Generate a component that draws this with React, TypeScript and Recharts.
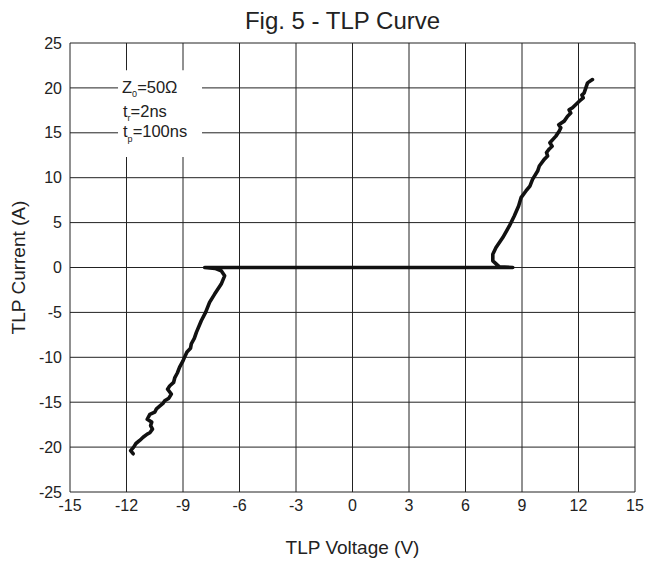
import React from "react";
import {
  LineChart,
  Line,
  XAxis,
  YAxis,
  CartesianGrid,
  ReferenceArea,
  Label,
  Customized,
} from "recharts";

// TLP voltage (V) along the traced curve, in drawing order
const voltage: number[] = [
  -11.65, -11.78, -11.62, -11.5, -11.3, -11.12, -10.9, -10.76, -10.62, -10.72,
  -10.66, -10.9, -10.76, -10.5, -10.41, -10.24, -10.05, -9.97, -9.75, -9.62,
  -9.82, -9.71, -9.5, -9.44, -9.3, -9.18, -9.0, -8.9, -8.79, -8.6,
  -8.56, -8.4, -8.29, -8.03, -7.8, -7.59, -7.32, -6.97, -6.79, -6.97,
  -7.3, -7.85, 2.7, 3.7, 8.51, 7.8, 7.45, 7.45, 7.62, 7.98,
  8.33, 8.59, 8.82, 8.95, 9.21, 9.42, 9.56, 9.83, 9.92, 10.18,
  10.36, 10.3, 10.45, 10.6, 10.48, 10.8, 10.98, 11.06, 10.95, 11.24,
  11.42, 11.59, 11.5, 11.68, 11.86, 12.04, 12.25, 12.18, 12.3, 12.39,
  12.48, 12.74,
];

// TLP current (A) along the traced curve, in drawing order
const current: number[] = [
  -20.74, -20.4, -20.0, -19.6, -19.26, -18.9, -18.55, -18.4, -18.0, -17.6,
  -17.22, -16.9, -16.35, -16.1, -15.75, -15.45, -15.1, -14.85, -14.55, -14.1,
  -13.55, -13.2, -12.8, -12.3, -11.75, -11.1, -10.4, -9.9, -9.4, -9.0,
  -8.5, -7.9, -7.22, -5.93, -5.0, -3.89, -2.96, -1.85, -0.93, -0.37,
  -0.1, 0, 0, 0, 0, 0.07, 0.74, 1.48, 2.22, 3.33,
  4.63, 5.74, 6.85, 7.78, 8.52, 9.07, 9.81, 10.74, 11.3, 12.04,
  12.41, 12.8, 13.2, 13.5, 13.89, 14.63, 15.19, 15.55, 15.9, 16.3,
  16.85, 17.2, 17.55, 17.78, 18.15, 18.52, 18.89, 19.2, 19.44, 20.0,
  20.56, 20.93,
];

const xTicks: number[] = [-15, -12, -9, -6, -3, 0, 3, 6, 9, 12, 15];
const yTicks: number[] = [-25, -20, -15, -10, -5, 0, 5, 10, 15, 20, 25];

const title = "Fig. 5 - TLP Curve";
const xTitle = "TLP Voltage (V)";
const yTitle = "TLP Current (A)";

// annotation box extent (data units)
const boxX: number[] = [-12.45, -7.99];
const boxY: number[] = [12.3, 21.96];

const data = voltage.map((v, k) => ({ v, i: current[k] }));

const FONT = "'Liberation Sans', Arial, Helvetica, sans-serif";
const INK = "#222";

const AnnotationContent = (props: any) => {
  const vb = props.viewBox || {};
  const x0 = vb.x + 4;
  const y0 = vb.y;
  return (
    <g fontFamily={FONT} fill={INK} fontSize={16.5}>
      <text x={x0} y={y0 + 23}>
        <tspan>Z</tspan>
        <tspan dy={4} fontSize={9}>0</tspan>
        <tspan dy={-4}>=50Ω</tspan>
      </text>
      <text x={x0 + 1} y={y0 + 47}>
        <tspan>t</tspan>
        <tspan dy={4} fontSize={9}>r</tspan>
        <tspan dy={-4}>=2ns</tspan>
      </text>
      <text x={x0 + 1} y={y0 + 66.5}>
        <tspan>t</tspan>
        <tspan dy={5} fontSize={9}>p</tspan>
        <tspan dy={-5}>=100ns</tspan>
      </text>
    </g>
  );
};

const TitleText = (props: any) => {
  const off = props.offset || { left: 70, width: 565 };
  return (
    <text
      x={off.left + off.width / 2 - 10}
      y={29}
      textAnchor="middle"
      fontFamily={FONT}
      fontSize={24}
      fill={INK}
    >
      {title}
    </text>
  );
};

export default function App() {
  return (
    <div style={{ position: "absolute", left: 0, top: 0, width: 646, height: 562, background: "#fff" }}>
      <LineChart
        width={646}
        height={562}
        data={data}
        margin={{ top: 43, right: 11, bottom: 0, left: 0 }}
      >
        <CartesianGrid stroke={INK} strokeWidth={1} />
        <XAxis
          dataKey="v"
          type="number"
          domain={[-15, 15]}
          ticks={xTicks}
          axisLine={false}
          tickLine={false}
          height={70}
          interval={0}
          tick={{ fill: INK, fontSize: 16, fontFamily: FONT }}
        >
          <Label
            value={xTitle}
            position="insideBottom"
            offset={8}
            style={{ fill: INK, fontSize: 19, fontFamily: FONT }}
          />
        </XAxis>
        <YAxis
          dataKey="i"
          type="number"
          domain={[-25, 25]}
          ticks={yTicks}
          axisLine={false}
          tickLine={false}
          width={70}
          interval={0}
          tick={{ fill: INK, fontSize: 16, fontFamily: FONT }}
        >
          <Label
            value={yTitle}
            angle={-90}
            position="insideLeft"
            offset={18}
            style={{ fill: INK, fontSize: 19, fontFamily: FONT, textAnchor: "middle" }}
          />
        </YAxis>
        <ReferenceArea
          x1={boxX[0]}
          x2={boxX[1]}
          y1={boxY[0]}
          y2={boxY[1]}
          fill="#fff"
          fillOpacity={1}
          stroke="none"
          ifOverflow="visible"
        >
          <Label content={AnnotationContent} />
        </ReferenceArea>
        <Line
          dataKey="i"
          stroke="#111"
          strokeWidth={3.6}
          dot={false}
          isAnimationActive={false}
          strokeLinejoin="round"
          strokeLinecap="round"
        />
        <Customized component={TitleText} />
      </LineChart>
    </div>
  );
}
